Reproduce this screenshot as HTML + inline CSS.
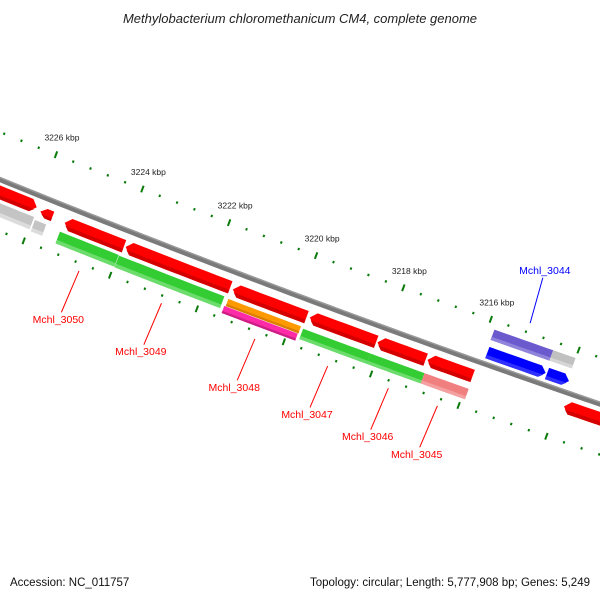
<!DOCTYPE html>
<html><head><meta charset="utf-8"><title>Genome map</title>
<style>html,body{margin:0;padding:0;background:#fff;}svg{display:block;}</style></head>
<body>
<svg id="chart" width="600" height="600" viewBox="0 0 600 600" xmlns="http://www.w3.org/2000/svg" font-family="'Liberation Sans', 'DejaVu Sans', sans-serif">
<rect x="0" y="0" width="600" height="600" fill="#fff"/>
<text x="300" y="23" text-anchor="middle" font-size="13" font-style="italic" fill="#222">Methylobacterium chloromethanicum CM4, complete genome</text>
<g id="ticks"></g>
<g id="genes"></g>
<g id="labels"></g>
<text x="10" y="586" font-size="11.5" fill="#111">Accession: NC_011757</text>
<text x="590" y="586" text-anchor="end" font-size="11.5" fill="#111">Topology: circular; Length: 5,777,908 bp; Genes: 5,249</text>
</svg>
<script>
// ---- data ----
const tickLabels = [3226, 3224, 3222, 3220, 3218, 3216];
const geneNames = ['L1','L2','M1','M2','M3','M4','M5','M6','M7','G1','G2','Gr1','Gr2','Gr3','Gr4','Sal','Or','Mg','Pu','GrayR','Bl1','Bl2'];
const geneStart = [3228.65,3225.886,3225.31,3223.90,3221.42,3219.66,3218.11,3216.97,3213.87,3229.08,3225.93,3225.34,3223.97,3219.71,3218.16,3216.93,3221.44,3221.47,3215.85,3214.51,3215.82,3214.46];
const geneEnd   = [3225.99,3225.604,3223.94,3221.49,3219.73,3218.14,3217.01,3215.94,3211.00,3225.97,3225.67,3223.98,3221.54,3218.16,3216.93,3215.92,3219.77,3219.78,3214.51,3214.00,3214.49,3213.96];
const geneTop   = [6,10,10,10,11,10,10,9.5,8,22.5,25,26.5,27,29.5,29.5,29.5,28,36,-35,-35,-17,-17];
const geneBot   = [19,20,23,23,24,23,23,22.5,21,35.5,37,39,39.5,40.5,40.5,40.5,35.5,43.5,-24,-24,-5,-5];
const geneDir   = [1,-1,-1,-1,-1,-1,-1,-1,-1,0,0,0,0,0,0,0,0,0,0,0,1,1];
const geneFill  = ['#ff0000','#ff0000','#ff0000','#ff0000','#ff0000','#ff0000','#ff0000','#ff0000','#ff0000','#c4c4c4','#c4c4c4','#33cc33','#33cc33','#33cc33','#33cc33','#f08080','#ff9900','#ff2aa8','#6a5acd','#c0c0c0','#0000ff','#0000ff'];
const geneShade = ['#d40000','#d40000','#d40000','#d40000','#d40000','#d40000','#d40000','#d40000','#d40000','#dcdcdc','#dcdcdc','#6cdc6c','#6cdc6c','#6cdc6c','#6cdc6c','#f5a0a0','#d97f00','#cc1f86','#8f84dc','#d6d6d6','#3030ff','#3030ff'];
const labelText  = ['Mchl_3050','Mchl_3049','Mchl_3048','Mchl_3047','Mchl_3046','Mchl_3045','Mchl_3044'];
const labelGene  = [11,12,16,13,14,15,18];
const labelColor = ['#ff0000','#ff0000','#ff0000','#ff0000','#ff0000','#ff0000','#0000ff'];

// ---- geometry ----
const M=[298.6,295.5], T=[0.9366,0.3504], N=[-0.3504,0.9366], C=4.4e-5;
const U0=-90.6, S=46.5;
function U(k){return U0+(3222-k)*S;}
function P(u,v){const w=v-C*u*u;return [M[0]+u*T[0]+w*N[0], M[1]+u*T[1]+w*N[1]];}
const NS='http://www.w3.org/2000/svg';
function mk(tag,attrs,parent){const e=document.createElementNS(NS,tag);for(const k in attrs)e.setAttribute(k,attrs[k]);parent.appendChild(e);return e;}
function pathFromUV(pts){return 'M'+pts.map(p=>{const q=P(p[0],p[1]);return q[0].toFixed(2)+','+q[1].toFixed(2);}).join(' L')+' Z';}
function edge(u1,u2,v){const a=[];const n=Math.max(2,Math.ceil(Math.abs(u2-u1)/8));for(let i=0;i<=n;i++)a.push([u1+(u2-u1)*i/n,v]);return a;}

const tG=document.getElementById('ticks'), gG=document.getElementById('genes'), lG=document.getElementById('labels');

// backbone
const bb=[].concat(edge(-360,360,-2),edge(360,-360,3.2));
let el=mk('path',{d:pathFromUV(bb),fill:'#7a7a7a'},gG);


el=mk('path',{d:pathFromUV([].concat(edge(-360,360,-2),edge(360,-360,-0.6))),fill:'#9a9a9a'},gG);



// ticks
const rings=[-43.5,48.5];
for(let i=0;i<=48;i++){
  const k=3230-i*0.4;const u=U(k);
  const major=Math.abs(Math.round(k)-k)<1e-6 && Math.round(k)%2===0;
  const h=major?3.5:1.2;
  for(const r of rings){
    const a=P(u,r-h),b=P(u,r+h);
    const t=mk('line',{x1:a[0],y1:a[1],x2:b[0],y2:b[1],stroke:'#0a7a0a','stroke-width':2},tG);
    
    
  }
}
tickLabels.forEach(k=>{
  const p=P(U(k),-43.5);
  const t=mk('text',{x:p[0]+6,y:p[1]-14,'text-anchor':'middle','font-size':'8.5',fill:'#222'},tG);
  t.textContent=k+' kbp';
  
  
});

// genes
geneNames.forEach((nm,i)=>{
  let u1=U(geneStart[i]),u2=U(geneEnd[i]);if(u1>u2){const x=u1;u1=u2;u2=x;}
  const vt=geneTop[i],vb=geneBot[i],vm=(vt+vb)/2,ah=Math.min(6,(u2-u1)*0.5);
  const vs=vt+(vb-vt)*0.7;
  let outline,lower;
  if(geneDir[i]<0){
    outline=[[u1,vm]].concat(edge(u1+ah,u2,vt),edge(u2,u1+ah,vb));
    lower=[[u1+ah*0.3,vs]].concat(edge(u1+ah*0.3,u2,vs),edge(u2,u1+ah,vb));
  }else if(geneDir[i]>0){
    outline=edge(u1,u2-ah,vt).concat([[u2,vm]],edge(u2-ah,u1,vb));
    lower=edge(u1,u2-ah*0.3,vs).concat(edge(u2-ah,u1,vb));
  }else{
    outline=edge(u1,u2,vt).concat(edge(u2,u1,vb));
    lower=edge(u1,u2,vs).concat(edge(u2,u1,vb));
  }
  const g=mk('g',{},gG);
  
  
  const a=mk('path',{d:pathFromUV(outline),fill:geneFill[i]},g);
  
  
  const b=mk('path',{d:pathFromUV(lower),fill:geneShade[i]},g);
  
  
});

// labels
labelText.forEach((txt,j)=>{
  const gi=labelGene[j];const uc=(U(geneStart[gi])+U(geneEnd[gi]))/2;
  const above=geneTop[gi]<0;
  const p1=above?P(uc,-53):P(uc,56), p2=above?P(uc-4,-100):P(uc-2,101);
  const ln=mk('line',{x1:p1[0],y1:p1[1],x2:p2[0],y2:p2[1],stroke:labelColor[j],'stroke-width':1},lG);
  
  
  const t=mk('text',{x:above?p2[0]+2:p2[0]-3,y:above?p2[1]-4:p2[1]+10.5,'text-anchor':'middle','font-size':'10.5',fill:labelColor[j]},lG);
  t.textContent=txt;
  
  
});
</script>
</body></html>
